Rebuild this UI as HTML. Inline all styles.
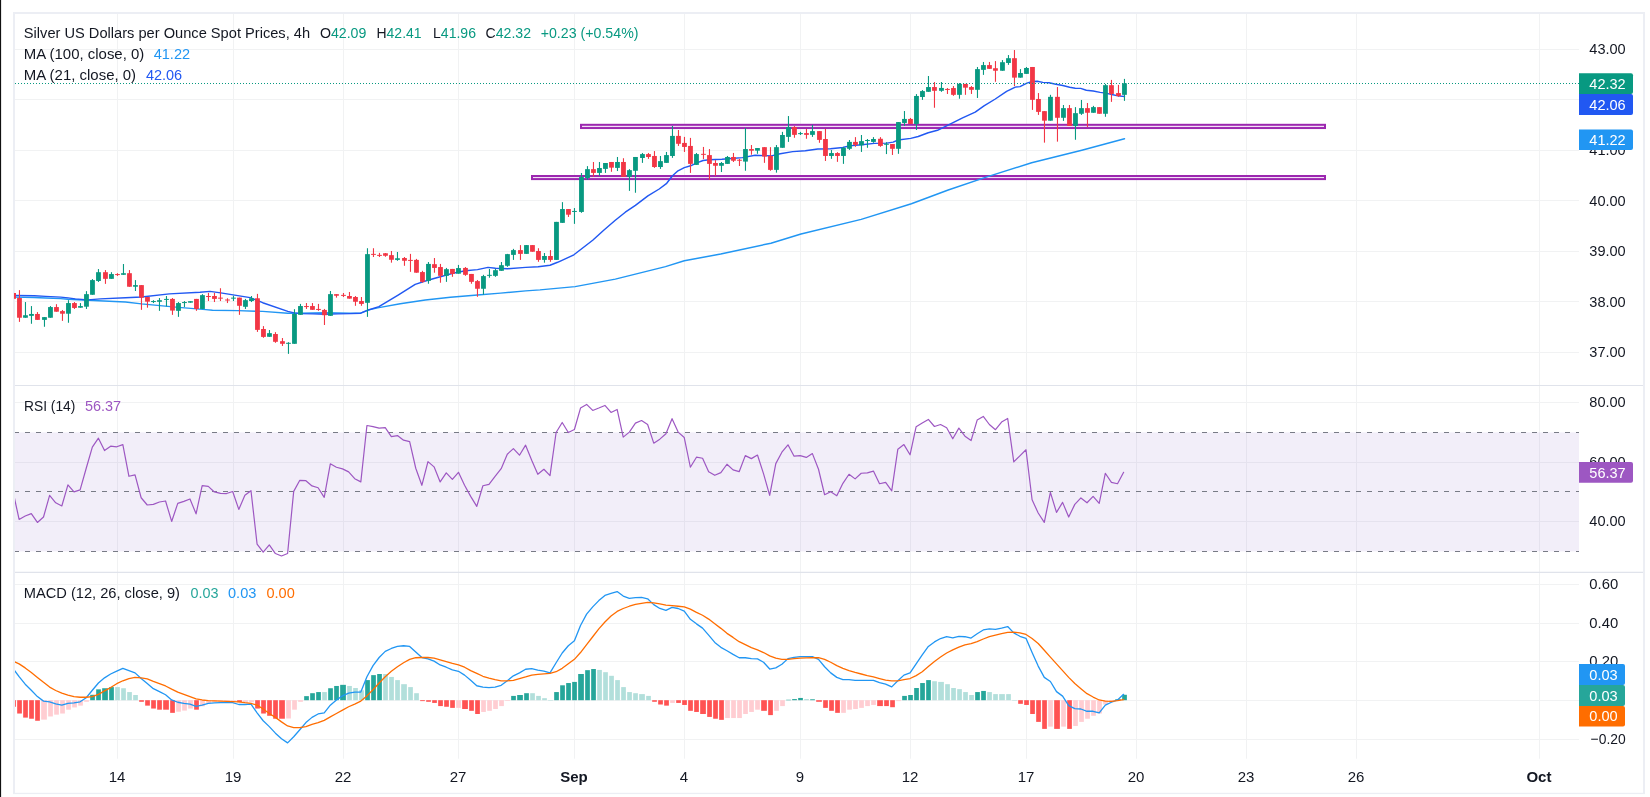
<!DOCTYPE html>
<html><head><meta charset="utf-8"><title>Silver chart</title>
<style>html,body{margin:0;padding:0;background:#fff;}body{width:1650px;height:797px;position:relative;overflow:hidden;font-family:"Liberation Sans",sans-serif;}</style></head>
<body>
<svg width="1650" height="797" viewBox="0 0 1650 797" style="position:absolute;left:0;top:0;display:block;will-change:transform" font-family="Liberation Sans, sans-serif" font-size="15">
<rect x="0" y="0" width="1650" height="797" fill="#fff"/>
<defs><clipPath id="cp"><rect x="15" y="14" width="1564" height="745"/></clipPath></defs>
<line x1="117.5" y1="14" x2="117.5" y2="758.7" stroke="#f1f2f3" stroke-width="1"/>
<line x1="233.5" y1="14" x2="233.5" y2="758.7" stroke="#f1f2f3" stroke-width="1"/>
<line x1="343.5" y1="14" x2="343.5" y2="758.7" stroke="#f1f2f3" stroke-width="1"/>
<line x1="458.5" y1="14" x2="458.5" y2="758.7" stroke="#f1f2f3" stroke-width="1"/>
<line x1="574.5" y1="14" x2="574.5" y2="758.7" stroke="#f1f2f3" stroke-width="1"/>
<line x1="684.5" y1="14" x2="684.5" y2="758.7" stroke="#f1f2f3" stroke-width="1"/>
<line x1="800.5" y1="14" x2="800.5" y2="758.7" stroke="#f1f2f3" stroke-width="1"/>
<line x1="910.5" y1="14" x2="910.5" y2="758.7" stroke="#f1f2f3" stroke-width="1"/>
<line x1="1026.5" y1="14" x2="1026.5" y2="758.7" stroke="#f1f2f3" stroke-width="1"/>
<line x1="1136.5" y1="14" x2="1136.5" y2="758.7" stroke="#f1f2f3" stroke-width="1"/>
<line x1="1246.5" y1="14" x2="1246.5" y2="758.7" stroke="#f1f2f3" stroke-width="1"/>
<line x1="1356.5" y1="14" x2="1356.5" y2="758.7" stroke="#f1f2f3" stroke-width="1"/>
<line x1="1539.5" y1="14" x2="1539.5" y2="758.7" stroke="#f1f2f3" stroke-width="1"/>
<line x1="15" y1="49.5" x2="1579" y2="49.5" stroke="#f1f2f3" stroke-width="1"/>
<line x1="15" y1="99.5" x2="1579" y2="99.5" stroke="#f1f2f3" stroke-width="1"/>
<line x1="15" y1="150.5" x2="1579" y2="150.5" stroke="#f1f2f3" stroke-width="1"/>
<line x1="15" y1="200.5" x2="1579" y2="200.5" stroke="#f1f2f3" stroke-width="1"/>
<line x1="15" y1="251.5" x2="1579" y2="251.5" stroke="#f1f2f3" stroke-width="1"/>
<line x1="15" y1="301.5" x2="1579" y2="301.5" stroke="#f1f2f3" stroke-width="1"/>
<line x1="15" y1="352.5" x2="1579" y2="352.5" stroke="#f1f2f3" stroke-width="1"/>
<line x1="15" y1="402.5" x2="1579" y2="402.5" stroke="#f1f2f3" stroke-width="1"/>
<line x1="15" y1="462.5" x2="1579" y2="462.5" stroke="#f1f2f3" stroke-width="1"/>
<line x1="15" y1="521.5" x2="1579" y2="521.5" stroke="#f1f2f3" stroke-width="1"/>
<line x1="15" y1="584.5" x2="1579" y2="584.5" stroke="#f1f2f3" stroke-width="1"/>
<line x1="15" y1="623.5" x2="1579" y2="623.5" stroke="#f1f2f3" stroke-width="1"/>
<line x1="15" y1="661.5" x2="1579" y2="661.5" stroke="#f1f2f3" stroke-width="1"/>
<line x1="15" y1="700.5" x2="1579" y2="700.5" stroke="#f1f2f3" stroke-width="1"/>
<line x1="15" y1="739.5" x2="1579" y2="739.5" stroke="#f1f2f3" stroke-width="1"/>
<rect x="15" y="432.4" width="1564" height="119.0" fill="#7e57c2" fill-opacity="0.1"/>
<line x1="15" y1="432.5" x2="1579" y2="432.5" stroke="#787b86" stroke-width="1" stroke-dasharray="5 6" stroke-dashoffset="1"/>
<line x1="15" y1="491.5" x2="1579" y2="491.5" stroke="#787b86" stroke-width="1" stroke-dasharray="5 6" stroke-dashoffset="1"/>
<line x1="15" y1="551.5" x2="1579" y2="551.5" stroke="#787b86" stroke-width="1" stroke-dasharray="5 6" stroke-dashoffset="1"/>
<line x1="15" y1="385.5" x2="1643" y2="385.5" stroke="#e0e3eb" stroke-width="1.1"/>
<line x1="15" y1="572.4" x2="1643" y2="572.4" stroke="#e0e3eb" stroke-width="1.1"/>
<g clip-path="url(#cp)">
<rect x="581" y="124.8" width="744" height="3.25" fill="#f3e0f6" stroke="#9c27b0" stroke-width="2"/>
<rect x="532" y="176" width="793" height="3.1" fill="#f3e0f6" stroke="#9c27b0" stroke-width="2"/>
<polyline fill="none" stroke="#2196f3" stroke-width="1.45" stroke-linejoin="round" stroke-linecap="round" points="14,297.1 34,297.5 45.6,298 60.7,298.6 68,299.2 87.8,300.2 125.5,302 141.5,303.9 175.7,307.1 205.8,309.6 212.5,310.2 237.9,310.6 262.7,311.4 287.8,313.3 300.4,313.3 325.5,312.7 350,313.1 360.7,313.1 367.6,310.1 378.9,307.6 400.2,303.8 425.3,300 450.4,297.2 477.5,295 500.6,293.1 525.7,290.9 540,289.9 575.1,286.6 615.3,279.1 665.5,266.6 684.3,260.8 720.7,254 770.9,243.2 801,234 861.2,219.4 911.4,203.8 948.2,190 987.7,176.6 1031.6,162.8 1081.8,150.2 1124.5,138.7"/>
<polyline fill="none" stroke="#2158f2" stroke-width="1.45" stroke-linejoin="round" stroke-linecap="round" points="14,295.4 34.3,295.8 45.6,296.4 60.7,297.1 68,297.9 75.3,298.9 87.8,299.9 100.4,298.9 125.5,297.7 141.5,297 169.4,293.9 200,292.3 210,291.4 220.7,292.9 250.2,297.6 262.7,302.7 287.8,311.4 294.1,312.9 300.4,313.6 312.9,313.9 325.5,314.2 338,313.9 350.6,313.6 360.7,313.2 367.6,310.3 378.9,306.6 397.7,295.3 415.2,284.4 427.8,280.2 440.3,276.7 452.9,273.3 465.4,270.8 477.5,269.6 488,267.4 495.5,268.3 507.6,268.7 525.7,267.4 538.2,266.7 550,265.2 557.6,262.3 573.9,254.8 592.7,240.2 604,230 615.3,220.3 625.3,212.2 635.4,205.3 647.9,195.9 659.2,189 666.7,183.3 672.5,175.8 678,170.8 684.3,167.6 690.6,165.8 696.8,162.9 703.1,160.5 709.4,159.7 721.9,159.2 734.5,158.2 742.5,157.6 755.1,155.3 771.4,155.9 780.2,153.8 792.7,151.6 805.3,150.7 817.8,149 830.4,148.8 842.9,147.5 849.2,145.9 861.7,144.7 874.3,143.4 886.8,143.1 893.1,142.1 898.1,140 910.7,138.4 918.2,136.5 928.2,132.7 937.5,130.3 950.1,124.1 962.6,117.8 975.2,112.1 984,105.9 995.3,99 1006.6,91.4 1015.3,87.1 1020,86.6 1026.9,83.1 1032.4,81.5 1037.3,81.2 1042.8,82.4 1049,82.8 1055.9,84.3 1062.8,85.5 1069.7,87.2 1075.2,88.3 1080.7,88.4 1086.3,90.2 1093.2,91 1100.1,92.4 1105.6,93.1 1111.8,94.5 1118,95.9 1124.5,96.5"/>
<rect x="18.92" y="290.13" width="1.1" height="31.74" fill="#f23645"/>
<rect x="17.07" y="298.04" width="4.8" height="19.7" fill="#f23645"/>
<rect x="24.92" y="302.05" width="1.1" height="15.68" fill="#089981"/>
<rect x="23.07" y="315.23" width="4.8" height="2.51" fill="#089981"/>
<rect x="30.92" y="306.07" width="1.1" height="17.69" fill="#089981"/>
<rect x="29.07" y="313.97" width="4.8" height="1.88" fill="#089981"/>
<rect x="36.92" y="312.09" width="1.1" height="7.78" fill="#f23645"/>
<rect x="35.07" y="313.97" width="4.8" height="5.9" fill="#f23645"/>
<rect x="43.92" y="317.11" width="1.1" height="9.66" fill="#089981"/>
<rect x="42.07" y="317.11" width="4.8" height="2.76" fill="#089981"/>
<rect x="49.92" y="306.07" width="1.1" height="11.67" fill="#089981"/>
<rect x="48.07" y="307.07" width="4.8" height="10.66" fill="#089981"/>
<rect x="55.92" y="304.18" width="1.1" height="7.53" fill="#f23645"/>
<rect x="54.07" y="307.07" width="4.8" height="4.64" fill="#f23645"/>
<rect x="61.92" y="309.96" width="1.1" height="10.92" fill="#f23645"/>
<rect x="60.07" y="311.09" width="4.8" height="2.63" fill="#f23645"/>
<rect x="67.92" y="300.17" width="1.1" height="22.58" fill="#089981"/>
<rect x="66.07" y="303.06" width="4.8" height="10.66" fill="#089981"/>
<rect x="73.92" y="302.05" width="1.1" height="6.9" fill="#f23645"/>
<rect x="72.07" y="303.06" width="4.8" height="4.89" fill="#f23645"/>
<rect x="79.92" y="303.06" width="1.1" height="4.64" fill="#089981"/>
<rect x="78.07" y="306.07" width="4.8" height="1.63" fill="#089981"/>
<rect x="85.92" y="291.14" width="1.1" height="17.82" fill="#089981"/>
<rect x="84.07" y="294.15" width="4.8" height="12.55" fill="#089981"/>
<rect x="91.92" y="279.09" width="1.1" height="15.68" fill="#089981"/>
<rect x="90.07" y="280.09" width="4.8" height="14.68" fill="#089981"/>
<rect x="97.92" y="269.05" width="1.1" height="12.92" fill="#089981"/>
<rect x="96.07" y="272.19" width="4.8" height="8.78" fill="#089981"/>
<rect x="104.92" y="270.06" width="1.1" height="13.8" fill="#f23645"/>
<rect x="103.07" y="272.19" width="4.8" height="6.65" fill="#f23645"/>
<rect x="110.92" y="272.19" width="1.1" height="6.65" fill="#089981"/>
<rect x="109.07" y="274.07" width="4.8" height="4.77" fill="#089981"/>
<rect x="116.92" y="273.19" width="1.1" height="2.76" fill="#f23645"/>
<rect x="115.07" y="274.07" width="4.8" height="1" fill="#f23645"/>
<rect x="122.92" y="264.03" width="1.1" height="10.79" fill="#089981"/>
<rect x="121.07" y="273.19" width="4.8" height="1.63" fill="#089981"/>
<rect x="128.92" y="270.06" width="1.1" height="16.69" fill="#f23645"/>
<rect x="127.07" y="273.19" width="4.8" height="13.55" fill="#f23645"/>
<rect x="134.92" y="280.09" width="1.1" height="10.92" fill="#089981"/>
<rect x="133.07" y="285.11" width="4.8" height="1.63" fill="#089981"/>
<rect x="140.92" y="285.11" width="1.1" height="24.72" fill="#f23645"/>
<rect x="139.07" y="285.11" width="4.8" height="12.55" fill="#f23645"/>
<rect x="146.92" y="297.03" width="1.1" height="10.66" fill="#f23645"/>
<rect x="145.07" y="297.03" width="4.8" height="4.64" fill="#f23645"/>
<rect x="152.92" y="300.17" width="1.1" height="2.89" fill="#089981"/>
<rect x="151.07" y="301.05" width="4.8" height="1" fill="#089981"/>
<rect x="158.92" y="298.04" width="1.1" height="12.8" fill="#089981"/>
<rect x="157.07" y="300.17" width="4.8" height="1.63" fill="#089981"/>
<rect x="165.92" y="296.03" width="1.1" height="10.41" fill="#089981"/>
<rect x="164.07" y="298.91" width="4.8" height="1" fill="#089981"/>
<rect x="171.92" y="298.04" width="1.1" height="16.81" fill="#f23645"/>
<rect x="170.07" y="298.91" width="4.8" height="11.67" fill="#f23645"/>
<rect x="177.92" y="302.05" width="1.1" height="14.81" fill="#089981"/>
<rect x="176.07" y="303.06" width="4.8" height="7.78" fill="#089981"/>
<rect x="183.92" y="301.05" width="1.1" height="6.02" fill="#089981"/>
<rect x="182.07" y="302.05" width="4.8" height="1" fill="#089981"/>
<rect x="189.92" y="301.17" width="1.1" height="1.51" fill="#089981"/>
<rect x="188.07" y="301.17" width="4.8" height="1.51" fill="#089981"/>
<rect x="195.92" y="298.91" width="1.1" height="11.92" fill="#f23645"/>
<rect x="194.07" y="298.91" width="4.8" height="10.04" fill="#f23645"/>
<rect x="201.92" y="294.15" width="1.1" height="14.81" fill="#089981"/>
<rect x="200.07" y="295.15" width="4.8" height="13.8" fill="#089981"/>
<rect x="207.92" y="292.87" width="1.1" height="8.16" fill="#f23645"/>
<rect x="206.07" y="296.01" width="4.8" height="1" fill="#f23645"/>
<rect x="213.92" y="292.87" width="1.1" height="9.16" fill="#f23645"/>
<rect x="212.07" y="296.01" width="4.8" height="2.89" fill="#f23645"/>
<rect x="219.92" y="288.23" width="1.1" height="12.8" fill="#f23645"/>
<rect x="218.07" y="297.64" width="4.8" height="1" fill="#f23645"/>
<rect x="226.92" y="298.27" width="1.1" height="4.77" fill="#f23645"/>
<rect x="225.07" y="299.52" width="4.8" height="1" fill="#f23645"/>
<rect x="232.92" y="295.76" width="1.1" height="5.27" fill="#089981"/>
<rect x="231.07" y="297.64" width="4.8" height="1" fill="#089981"/>
<rect x="238.92" y="297.64" width="1.1" height="17.19" fill="#f23645"/>
<rect x="237.07" y="297.64" width="4.8" height="8.16" fill="#f23645"/>
<rect x="244.92" y="298.9" width="1.1" height="10.04" fill="#089981"/>
<rect x="243.07" y="300.15" width="4.8" height="6.65" fill="#089981"/>
<rect x="250.92" y="296.01" width="1.1" height="6.02" fill="#089981"/>
<rect x="249.07" y="298.27" width="4.8" height="2.76" fill="#089981"/>
<rect x="256.92" y="293.88" width="1.1" height="38.02" fill="#f23645"/>
<rect x="255.07" y="298.27" width="4.8" height="31.62" fill="#f23645"/>
<rect x="262.92" y="326.12" width="1.1" height="11.67" fill="#f23645"/>
<rect x="261.07" y="329.01" width="4.8" height="7.9" fill="#f23645"/>
<rect x="268.92" y="330.01" width="1.1" height="6.78" fill="#089981"/>
<rect x="267.07" y="333.15" width="4.8" height="3.64" fill="#089981"/>
<rect x="274.92" y="332.15" width="1.1" height="10.66" fill="#f23645"/>
<rect x="273.07" y="334.03" width="4.8" height="7.78" fill="#f23645"/>
<rect x="281.92" y="338.04" width="1.1" height="7.9" fill="#f23645"/>
<rect x="280.07" y="341.18" width="4.8" height="2.63" fill="#f23645"/>
<rect x="287.92" y="342.18" width="1.1" height="11.67" fill="#089981"/>
<rect x="286.07" y="342.81" width="4.8" height="1" fill="#089981"/>
<rect x="293.92" y="309.18" width="1.1" height="34.63" fill="#089981"/>
<rect x="292.07" y="313.95" width="4.8" height="29.86" fill="#089981"/>
<rect x="299.92" y="303.91" width="1.1" height="10.92" fill="#089981"/>
<rect x="298.07" y="306.05" width="4.8" height="8.78" fill="#089981"/>
<rect x="305.92" y="303.04" width="1.1" height="5.9" fill="#f23645"/>
<rect x="304.07" y="306.05" width="4.8" height="1" fill="#f23645"/>
<rect x="311.92" y="303.04" width="1.1" height="6.78" fill="#f23645"/>
<rect x="310.07" y="306.05" width="4.8" height="3.76" fill="#f23645"/>
<rect x="317.92" y="303.91" width="1.1" height="6.9" fill="#f23645"/>
<rect x="316.07" y="308.93" width="4.8" height="1" fill="#f23645"/>
<rect x="323.92" y="308.93" width="1.1" height="16.06" fill="#f23645"/>
<rect x="322.07" y="309.94" width="4.8" height="5.27" fill="#f23645"/>
<rect x="329.92" y="290.99" width="1.1" height="24.84" fill="#089981"/>
<rect x="328.07" y="294.13" width="4.8" height="21.71" fill="#089981"/>
<rect x="335.92" y="294.13" width="1.1" height="3.51" fill="#f23645"/>
<rect x="334.07" y="294.13" width="4.8" height="1.63" fill="#f23645"/>
<rect x="342.92" y="293" width="1.1" height="4.02" fill="#f23645"/>
<rect x="341.07" y="294.88" width="4.8" height="1" fill="#f23645"/>
<rect x="348.92" y="291.99" width="1.1" height="6.65" fill="#f23645"/>
<rect x="347.07" y="296.01" width="4.8" height="2.63" fill="#f23645"/>
<rect x="354.92" y="296.01" width="1.1" height="9.79" fill="#f23645"/>
<rect x="353.07" y="297.01" width="4.8" height="4.77" fill="#f23645"/>
<rect x="360.92" y="297.01" width="1.1" height="8.78" fill="#f23645"/>
<rect x="359.07" y="301.03" width="4.8" height="2.89" fill="#f23645"/>
<rect x="366.92" y="248.23" width="1.1" height="68.63" fill="#089981"/>
<rect x="365.07" y="254.13" width="4.8" height="48.68" fill="#089981"/>
<rect x="372.92" y="248.23" width="1.1" height="8.78" fill="#f23645"/>
<rect x="371.07" y="253.88" width="4.8" height="1" fill="#f23645"/>
<rect x="378.92" y="252.87" width="1.1" height="4.14" fill="#f23645"/>
<rect x="377.07" y="254.88" width="4.8" height="1" fill="#f23645"/>
<rect x="384.92" y="253" width="1.1" height="3.76" fill="#f23645"/>
<rect x="383.07" y="253.25" width="4.8" height="2.51" fill="#f23645"/>
<rect x="390.92" y="250.99" width="1.1" height="11.67" fill="#f23645"/>
<rect x="389.07" y="255.13" width="4.8" height="4.64" fill="#f23645"/>
<rect x="396.92" y="251.99" width="1.1" height="8.78" fill="#089981"/>
<rect x="395.07" y="258.27" width="4.8" height="1.63" fill="#089981"/>
<rect x="403.92" y="257.01" width="1.1" height="8.78" fill="#f23645"/>
<rect x="402.07" y="258.02" width="4.8" height="2.76" fill="#f23645"/>
<rect x="409.92" y="253.88" width="1.1" height="17.94" fill="#f23645"/>
<rect x="408.07" y="259.9" width="4.8" height="1" fill="#f23645"/>
<rect x="415.92" y="258.9" width="1.1" height="13.8" fill="#f23645"/>
<rect x="414.07" y="259.9" width="4.8" height="12.8" fill="#f23645"/>
<rect x="421.92" y="270.82" width="1.1" height="11.92" fill="#f23645"/>
<rect x="420.07" y="272.07" width="4.8" height="9.79" fill="#f23645"/>
<rect x="427.92" y="262.03" width="1.1" height="21.71" fill="#089981"/>
<rect x="426.07" y="263.91" width="4.8" height="16.94" fill="#089981"/>
<rect x="433.92" y="258.02" width="1.1" height="14.68" fill="#f23645"/>
<rect x="432.07" y="264.17" width="4.8" height="3.76" fill="#f23645"/>
<rect x="439.92" y="263.91" width="1.1" height="18.82" fill="#f23645"/>
<rect x="438.07" y="267.05" width="4.8" height="8.78" fill="#f23645"/>
<rect x="445.92" y="267.93" width="1.1" height="13.93" fill="#089981"/>
<rect x="444.07" y="269.18" width="4.8" height="6.65" fill="#089981"/>
<rect x="451.92" y="268.93" width="1.1" height="7.9" fill="#f23645"/>
<rect x="450.07" y="268.93" width="4.8" height="5.02" fill="#f23645"/>
<rect x="457.92" y="264.92" width="1.1" height="8.78" fill="#089981"/>
<rect x="456.07" y="268.06" width="4.8" height="5.65" fill="#089981"/>
<rect x="464.92" y="267.05" width="1.1" height="8.78" fill="#f23645"/>
<rect x="463.07" y="267.93" width="4.8" height="6.9" fill="#f23645"/>
<rect x="470.92" y="273.95" width="1.1" height="9.79" fill="#f23645"/>
<rect x="469.07" y="273.95" width="4.8" height="7.9" fill="#f23645"/>
<rect x="476.92" y="279.97" width="1.1" height="16.81" fill="#f23645"/>
<rect x="475.07" y="281.1" width="4.8" height="7.65" fill="#f23645"/>
<rect x="482.92" y="274.83" width="1.1" height="19.82" fill="#089981"/>
<rect x="481.07" y="276.09" width="4.8" height="12.67" fill="#089981"/>
<rect x="488.92" y="268.93" width="1.1" height="8.78" fill="#089981"/>
<rect x="487.07" y="274.83" width="4.8" height="1" fill="#089981"/>
<rect x="494.92" y="268.93" width="1.1" height="7.9" fill="#089981"/>
<rect x="493.07" y="270.19" width="4.8" height="5.65" fill="#089981"/>
<rect x="500.92" y="262.03" width="1.1" height="8.78" fill="#089981"/>
<rect x="499.07" y="265.17" width="4.8" height="5.65" fill="#089981"/>
<rect x="506.92" y="253.88" width="1.1" height="12.92" fill="#089981"/>
<rect x="505.07" y="254.13" width="4.8" height="11.67" fill="#089981"/>
<rect x="512.92" y="248.86" width="1.1" height="11.04" fill="#089981"/>
<rect x="511.07" y="250.11" width="4.8" height="4.77" fill="#089981"/>
<rect x="519.92" y="245.09" width="1.1" height="14.81" fill="#f23645"/>
<rect x="518.07" y="250.11" width="4.8" height="3.76" fill="#f23645"/>
<rect x="525.92" y="245.09" width="1.1" height="8.78" fill="#089981"/>
<rect x="524.07" y="245.09" width="4.8" height="8.78" fill="#089981"/>
<rect x="531.92" y="245.09" width="1.1" height="6.65" fill="#f23645"/>
<rect x="530.07" y="245.09" width="4.8" height="6.65" fill="#f23645"/>
<rect x="537.92" y="248.23" width="1.1" height="13.55" fill="#f23645"/>
<rect x="536.07" y="250.99" width="4.8" height="8.91" fill="#f23645"/>
<rect x="543.92" y="253" width="1.1" height="9.66" fill="#089981"/>
<rect x="542.07" y="256.01" width="4.8" height="3.89" fill="#089981"/>
<rect x="549.92" y="250.11" width="1.1" height="11.67" fill="#f23645"/>
<rect x="548.07" y="256.01" width="4.8" height="3.89" fill="#f23645"/>
<rect x="555.92" y="221.88" width="1.1" height="38.02" fill="#089981"/>
<rect x="554.07" y="221.88" width="4.8" height="38.02" fill="#089981"/>
<rect x="561.92" y="202.15" width="1.1" height="20.7" fill="#089981"/>
<rect x="560.07" y="209.05" width="4.8" height="13.8" fill="#089981"/>
<rect x="567.92" y="209.05" width="1.1" height="7.9" fill="#f23645"/>
<rect x="566.07" y="209.05" width="4.8" height="5.65" fill="#f23645"/>
<rect x="573.92" y="208.04" width="1.1" height="15.81" fill="#089981"/>
<rect x="572.07" y="210.93" width="4.8" height="1" fill="#089981"/>
<rect x="580.92" y="173.04" width="1.1" height="39.77" fill="#089981"/>
<rect x="579.07" y="177.05" width="4.8" height="34.88" fill="#089981"/>
<rect x="586.92" y="166.14" width="1.1" height="13.68" fill="#089981"/>
<rect x="585.07" y="169.15" width="4.8" height="8.91" fill="#089981"/>
<rect x="592.92" y="161.99" width="1.1" height="14.81" fill="#f23645"/>
<rect x="591.07" y="169.15" width="4.8" height="3.76" fill="#f23645"/>
<rect x="598.92" y="161.99" width="1.1" height="13.8" fill="#089981"/>
<rect x="597.07" y="168.02" width="4.8" height="4.89" fill="#089981"/>
<rect x="604.92" y="163" width="1.1" height="9.91" fill="#089981"/>
<rect x="603.07" y="163" width="4.8" height="5.9" fill="#089981"/>
<rect x="610.92" y="161.99" width="1.1" height="9.79" fill="#f23645"/>
<rect x="609.07" y="161.99" width="4.8" height="5.65" fill="#f23645"/>
<rect x="616.92" y="156.98" width="1.1" height="14.05" fill="#089981"/>
<rect x="615.07" y="161.99" width="4.8" height="5.9" fill="#089981"/>
<rect x="622.92" y="158.23" width="1.1" height="18.57" fill="#f23645"/>
<rect x="621.07" y="161.99" width="4.8" height="14.81" fill="#f23645"/>
<rect x="628.92" y="169.15" width="1.1" height="21.71" fill="#089981"/>
<rect x="627.07" y="170.15" width="4.8" height="6.65" fill="#089981"/>
<rect x="634.92" y="156.98" width="1.1" height="35.76" fill="#089981"/>
<rect x="633.07" y="156.98" width="4.8" height="13.8" fill="#089981"/>
<rect x="641.92" y="152.96" width="1.1" height="9.91" fill="#089981"/>
<rect x="640.07" y="154.09" width="4.8" height="3.89" fill="#089981"/>
<rect x="647.92" y="152.96" width="1.1" height="5.9" fill="#f23645"/>
<rect x="646.07" y="154.09" width="4.8" height="2.89" fill="#f23645"/>
<rect x="653.92" y="151.08" width="1.1" height="16.81" fill="#f23645"/>
<rect x="652.07" y="155.97" width="4.8" height="11.04" fill="#f23645"/>
<rect x="659.92" y="155.97" width="1.1" height="12.92" fill="#089981"/>
<rect x="658.07" y="161.12" width="4.8" height="5.9" fill="#089981"/>
<rect x="665.92" y="151.96" width="1.1" height="10.92" fill="#089981"/>
<rect x="664.07" y="155.09" width="4.8" height="7.78" fill="#089981"/>
<rect x="671.92" y="125.98" width="1.1" height="31.87" fill="#089981"/>
<rect x="670.07" y="135.9" width="4.8" height="20.08" fill="#089981"/>
<rect x="677.92" y="130" width="1.1" height="15.93" fill="#f23645"/>
<rect x="676.07" y="135.9" width="4.8" height="7.9" fill="#f23645"/>
<rect x="683.92" y="136.9" width="1.1" height="15.06" fill="#f23645"/>
<rect x="682.07" y="142.92" width="4.8" height="4.02" fill="#f23645"/>
<rect x="689.92" y="137.9" width="1.1" height="35.01" fill="#f23645"/>
<rect x="688.07" y="145.93" width="4.8" height="17.94" fill="#f23645"/>
<rect x="695.92" y="152.96" width="1.1" height="11.92" fill="#089981"/>
<rect x="694.07" y="154.09" width="4.8" height="10.79" fill="#089981"/>
<rect x="702.92" y="146.94" width="1.1" height="12.17" fill="#f23645"/>
<rect x="701.07" y="153.84" width="4.8" height="1" fill="#f23645"/>
<rect x="708.92" y="149.07" width="1.1" height="30.74" fill="#f23645"/>
<rect x="707.07" y="155.09" width="4.8" height="8.78" fill="#f23645"/>
<rect x="714.92" y="160.11" width="1.1" height="15.68" fill="#f23645"/>
<rect x="713.07" y="163" width="4.8" height="2.76" fill="#f23645"/>
<rect x="720.92" y="161.99" width="1.1" height="10.04" fill="#089981"/>
<rect x="719.07" y="163" width="4.8" height="2.76" fill="#089981"/>
<rect x="726.92" y="155.97" width="1.1" height="7.9" fill="#089981"/>
<rect x="725.07" y="156.98" width="4.8" height="6.9" fill="#089981"/>
<rect x="732.92" y="152.96" width="1.1" height="9.03" fill="#f23645"/>
<rect x="731.07" y="156.98" width="4.8" height="3.76" fill="#f23645"/>
<rect x="738.92" y="158.86" width="1.1" height="7.15" fill="#f23645"/>
<rect x="737.07" y="159.74" width="4.8" height="1" fill="#f23645"/>
<rect x="744.92" y="128.09" width="1.1" height="42.66" fill="#089981"/>
<rect x="743.07" y="149.05" width="4.8" height="12.55" fill="#089981"/>
<rect x="750.92" y="145.03" width="1.1" height="9.66" fill="#f23645"/>
<rect x="749.07" y="149.05" width="4.8" height="1.63" fill="#f23645"/>
<rect x="756.92" y="148.04" width="1.1" height="5.77" fill="#089981"/>
<rect x="755.07" y="148.04" width="4.8" height="2.63" fill="#089981"/>
<rect x="763.92" y="147.16" width="1.1" height="15.68" fill="#f23645"/>
<rect x="762.07" y="147.16" width="4.8" height="9.41" fill="#f23645"/>
<rect x="769.92" y="147.16" width="1.1" height="23.59" fill="#f23645"/>
<rect x="768.07" y="155.95" width="4.8" height="13.93" fill="#f23645"/>
<rect x="775.92" y="145.03" width="1.1" height="27.6" fill="#089981"/>
<rect x="774.07" y="147.16" width="4.8" height="22.71" fill="#089981"/>
<rect x="781.92" y="131.86" width="1.1" height="15.93" fill="#089981"/>
<rect x="780.07" y="134.99" width="4.8" height="12.8" fill="#089981"/>
<rect x="787.92" y="116.05" width="1.1" height="25.85" fill="#089981"/>
<rect x="786.07" y="127.09" width="4.8" height="9.79" fill="#089981"/>
<rect x="793.92" y="126.09" width="1.1" height="11.67" fill="#f23645"/>
<rect x="792.07" y="127.09" width="4.8" height="7.78" fill="#f23645"/>
<rect x="799.92" y="131.86" width="1.1" height="3.14" fill="#089981"/>
<rect x="798.07" y="133.11" width="4.8" height="1" fill="#089981"/>
<rect x="805.92" y="128.97" width="1.1" height="9.79" fill="#f23645"/>
<rect x="804.07" y="133.11" width="4.8" height="1.76" fill="#f23645"/>
<rect x="811.92" y="124.83" width="1.1" height="12.05" fill="#089981"/>
<rect x="810.07" y="131.1" width="4.8" height="3.76" fill="#089981"/>
<rect x="818.92" y="131.1" width="1.1" height="11.67" fill="#f23645"/>
<rect x="817.07" y="131.1" width="4.8" height="8.78" fill="#f23645"/>
<rect x="824.92" y="128.97" width="1.1" height="31.99" fill="#f23645"/>
<rect x="823.07" y="139.01" width="4.8" height="16.94" fill="#f23645"/>
<rect x="830.92" y="150.05" width="1.1" height="8.78" fill="#089981"/>
<rect x="829.07" y="153.06" width="4.8" height="2.89" fill="#089981"/>
<rect x="836.92" y="152.18" width="1.1" height="9.66" fill="#f23645"/>
<rect x="835.07" y="153.06" width="4.8" height="2.89" fill="#f23645"/>
<rect x="842.92" y="146.91" width="1.1" height="16.94" fill="#089981"/>
<rect x="841.07" y="147.79" width="4.8" height="8.16" fill="#089981"/>
<rect x="848.92" y="140.01" width="1.1" height="9.91" fill="#089981"/>
<rect x="847.07" y="141.89" width="4.8" height="6.9" fill="#089981"/>
<rect x="854.92" y="137.13" width="1.1" height="9.66" fill="#f23645"/>
<rect x="853.07" y="141.89" width="4.8" height="3.01" fill="#f23645"/>
<rect x="860.92" y="134.99" width="1.1" height="16.94" fill="#089981"/>
<rect x="859.07" y="141.14" width="4.8" height="4.14" fill="#089981"/>
<rect x="866.92" y="139.01" width="1.1" height="8.78" fill="#089981"/>
<rect x="865.07" y="140.01" width="4.8" height="1" fill="#089981"/>
<rect x="872.92" y="137.13" width="1.1" height="5.65" fill="#089981"/>
<rect x="871.07" y="139.01" width="4.8" height="2.89" fill="#089981"/>
<rect x="879.92" y="137.13" width="1.1" height="9.66" fill="#f23645"/>
<rect x="878.07" y="138.76" width="4.8" height="7.15" fill="#f23645"/>
<rect x="885.92" y="142.15" width="1.1" height="11.92" fill="#089981"/>
<rect x="884.07" y="143.78" width="4.8" height="1" fill="#089981"/>
<rect x="891.92" y="144.03" width="1.1" height="10.92" fill="#f23645"/>
<rect x="890.07" y="144.03" width="4.8" height="4.77" fill="#f23645"/>
<rect x="897.92" y="122.07" width="1.1" height="31.74" fill="#089981"/>
<rect x="896.07" y="122.07" width="4.8" height="26.73" fill="#089981"/>
<rect x="903.92" y="111.03" width="1.1" height="14.81" fill="#089981"/>
<rect x="902.07" y="118.93" width="4.8" height="4.02" fill="#089981"/>
<rect x="909.92" y="117.93" width="1.1" height="6.02" fill="#f23645"/>
<rect x="908.07" y="118.93" width="4.8" height="5.02" fill="#f23645"/>
<rect x="915.92" y="94.09" width="1.1" height="35.88" fill="#089981"/>
<rect x="914.07" y="95.97" width="4.8" height="27.98" fill="#089981"/>
<rect x="921.92" y="90.08" width="1.1" height="9.79" fill="#089981"/>
<rect x="920.07" y="91.08" width="4.8" height="5.9" fill="#089981"/>
<rect x="927.92" y="76.01" width="1.1" height="15.81" fill="#089981"/>
<rect x="926.07" y="87.05" width="4.8" height="4.77" fill="#089981"/>
<rect x="933.92" y="82.03" width="1.1" height="25.72" fill="#f23645"/>
<rect x="932.07" y="87.05" width="4.8" height="3.76" fill="#f23645"/>
<rect x="940.92" y="82.03" width="1.1" height="9.79" fill="#089981"/>
<rect x="939.07" y="87.93" width="4.8" height="2.89" fill="#089981"/>
<rect x="946.92" y="88.06" width="1.1" height="5.9" fill="#f23645"/>
<rect x="945.07" y="88.93" width="4.8" height="1" fill="#f23645"/>
<rect x="952.92" y="86.05" width="1.1" height="9.79" fill="#f23645"/>
<rect x="951.07" y="88.06" width="4.8" height="6.78" fill="#f23645"/>
<rect x="958.92" y="83.04" width="1.1" height="15.68" fill="#089981"/>
<rect x="957.07" y="83.91" width="4.8" height="10.92" fill="#089981"/>
<rect x="964.92" y="83.91" width="1.1" height="10.92" fill="#f23645"/>
<rect x="963.07" y="83.91" width="4.8" height="3.76" fill="#f23645"/>
<rect x="970.92" y="86.05" width="1.1" height="7.9" fill="#f23645"/>
<rect x="969.07" y="87.05" width="4.8" height="2.76" fill="#f23645"/>
<rect x="976.92" y="66.98" width="1.1" height="30.99" fill="#089981"/>
<rect x="975.07" y="69.11" width="4.8" height="20.7" fill="#089981"/>
<rect x="982.92" y="61.96" width="1.1" height="12.92" fill="#089981"/>
<rect x="981.07" y="65.09" width="4.8" height="4.77" fill="#089981"/>
<rect x="988.92" y="61.96" width="1.1" height="6.9" fill="#f23645"/>
<rect x="987.07" y="65.09" width="4.8" height="3.76" fill="#f23645"/>
<rect x="994.92" y="61.08" width="1.1" height="20.7" fill="#f23645"/>
<rect x="993.07" y="68.23" width="4.8" height="2.51" fill="#f23645"/>
<rect x="1001.92" y="60.08" width="1.1" height="10.66" fill="#089981"/>
<rect x="1000.07" y="62.21" width="4.8" height="8.53" fill="#089981"/>
<rect x="1007.92" y="55.06" width="1.1" height="9.79" fill="#089981"/>
<rect x="1006.07" y="58.19" width="4.8" height="4.77" fill="#089981"/>
<rect x="1013.92" y="50.04" width="1.1" height="36.01" fill="#f23645"/>
<rect x="1012.07" y="58.19" width="4.8" height="19.45" fill="#f23645"/>
<rect x="1019.92" y="69.11" width="1.1" height="8.53" fill="#089981"/>
<rect x="1018.07" y="73" width="4.8" height="4.64" fill="#089981"/>
<rect x="1025.92" y="66.98" width="1.1" height="6.9" fill="#089981"/>
<rect x="1024.07" y="67.98" width="4.8" height="5.9" fill="#089981"/>
<rect x="1031.92" y="66.98" width="1.1" height="42.91" fill="#f23645"/>
<rect x="1030.07" y="66.98" width="4.8" height="32.87" fill="#f23645"/>
<rect x="1037.92" y="93.07" width="1.1" height="21.83" fill="#f23645"/>
<rect x="1036.07" y="98.97" width="4.8" height="12.92" fill="#f23645"/>
<rect x="1043.92" y="111.14" width="1.1" height="31.49" fill="#f23645"/>
<rect x="1042.07" y="111.14" width="4.8" height="9.54" fill="#f23645"/>
<rect x="1049.92" y="94.83" width="1.1" height="25.85" fill="#089981"/>
<rect x="1048.07" y="96.84" width="4.8" height="23.84" fill="#089981"/>
<rect x="1056.92" y="87.05" width="1.1" height="54.58" fill="#f23645"/>
<rect x="1055.07" y="96.84" width="4.8" height="20.95" fill="#f23645"/>
<rect x="1062.92" y="104.99" width="1.1" height="15.93" fill="#089981"/>
<rect x="1061.07" y="108.13" width="4.8" height="9.66" fill="#089981"/>
<rect x="1068.92" y="104.99" width="1.1" height="20.95" fill="#f23645"/>
<rect x="1067.07" y="108.13" width="4.8" height="17.82" fill="#f23645"/>
<rect x="1074.92" y="107.13" width="1.1" height="32.62" fill="#089981"/>
<rect x="1073.07" y="113.15" width="4.8" height="12.8" fill="#089981"/>
<rect x="1080.92" y="99.97" width="1.1" height="14.93" fill="#089981"/>
<rect x="1079.07" y="108.13" width="4.8" height="5.65" fill="#089981"/>
<rect x="1086.92" y="102.99" width="1.1" height="23.96" fill="#f23645"/>
<rect x="1085.07" y="108.13" width="4.8" height="4.64" fill="#f23645"/>
<rect x="1092.92" y="105.87" width="1.1" height="6.9" fill="#089981"/>
<rect x="1091.07" y="107.13" width="4.8" height="5.65" fill="#089981"/>
<rect x="1098.92" y="107.13" width="1.1" height="6.65" fill="#f23645"/>
<rect x="1097.07" y="107.13" width="4.8" height="6.65" fill="#f23645"/>
<rect x="1104.92" y="83.91" width="1.1" height="32.87" fill="#089981"/>
<rect x="1103.07" y="85.17" width="4.8" height="28.61" fill="#089981"/>
<rect x="1110.92" y="79.9" width="1.1" height="21.96" fill="#f23645"/>
<rect x="1109.07" y="85.17" width="4.8" height="8.78" fill="#f23645"/>
<rect x="1117.92" y="84.92" width="1.1" height="11.92" fill="#f23645"/>
<rect x="1116.07" y="93.07" width="4.8" height="3.01" fill="#f23645"/>
<rect x="1123.92" y="78.9" width="1.1" height="21.96" fill="#089981"/>
<rect x="1122.07" y="83.29" width="4.8" height="11.54" fill="#089981"/>
<line x1="15" y1="83.5" x2="1579" y2="83.5" stroke="#089981" stroke-width="1.1" stroke-dasharray="1 2"/>
<polyline fill="none" stroke="#9d57c2" stroke-width="1.2" stroke-linejoin="round" stroke-linecap="round" points="13,491.34 19.1,519.44 25.2,516.02 31.3,513.62 37.41,522.45 43.51,517.03 49.61,495.35 55.71,502.78 61.82,505.99 67.92,484.91 74.02,491.94 80.12,489.93 86.23,468.25 92.33,447.18 98.43,438.14 104.53,450.59 110.63,446.17 116.74,446.78 122.84,444.57 128.94,476.28 135.04,474.88 141.15,497.76 147.25,504.99 153.35,504.38 159.45,501.97 165.56,500.97 171.66,521.44 177.76,503.38 183.86,501.37 189.97,498.96 196.07,513.82 202.17,485.72 208.27,486.32 214.37,491.94 220.48,493.34 226.58,493.54 232.68,491.54 238.78,509.4 244.89,495.35 250.99,490.73 257.09,544.13 263.19,552.15 269.3,544.93 275.4,553.56 281.5,555.97 287.6,553.56 293.7,491.34 299.81,480.3 305.91,480.7 312.01,485.92 318.11,487.72 324.22,497.36 330.32,463.84 336.42,467.25 342.52,468.86 348.63,471.87 354.73,478.69 360.83,481.9 366.93,425.5 373.04,426.7 379.14,428.11 385.24,427.71 391.34,436.54 397.44,435.54 403.55,440.15 409.65,441.56 415.75,468.25 421.85,485.31 427.96,461.63 434.06,466.85 440.16,481.9 446.26,472.87 452.37,479.29 458.47,472.27 464.57,485.31 470.67,496.35 476.77,506.39 482.88,485.72 488.98,484.31 495.08,476.28 501.18,468.65 507.29,454.2 513.39,448.58 519.49,455.21 525.59,445.17 531.7,460.22 537.8,474.27 543.9,469.26 550,475.68 556.11,432.52 562.21,422.49 568.31,432.52 574.41,429.51 580.51,408.04 586.62,404.42 592.72,410.44 598.82,408.04 604.92,405.43 611.03,412.45 617.13,409.44 623.23,437.14 629.33,432.12 635.44,423.09 641.54,420.48 647.64,424.5 653.74,443.16 659.84,439.15 665.95,433.73 672.05,418.67 678.15,432.12 684.25,437.54 690.36,467.25 696.46,457.21 702.56,458.22 708.66,471.67 714.77,475.28 720.87,472.67 726.97,464.24 733.07,469.86 739.17,471.67 745.28,455.61 751.38,458.62 757.48,455.01 763.58,473.87 769.69,495.35 775.79,463.64 781.89,452.2 787.99,444.77 794.1,456.21 800.2,455.61 806.3,457.41 812.4,453.6 818.51,469.26 824.61,494.75 830.71,491.74 836.81,495.75 842.91,483.31 849.02,474.27 855.12,478.89 861.22,473.27 867.32,472.87 873.43,471.06 879.53,483.71 885.63,482.3 891.73,490.93 897.84,449.18 903.94,444.57 910.04,454.8 916.14,426.7 922.24,423.09 928.35,419.48 934.45,426.5 940.55,424.5 946.65,427.71 952.76,438.75 958.86,428.11 964.96,436.14 971.06,440.55 977.17,420.08 983.27,416.47 989.37,424.5 995.47,429.71 1001.58,422.09 1007.68,418.47 1013.78,461.83 1019.88,455.81 1025.98,449.79 1032.09,499.77 1038.19,513.01 1044.29,522.45 1050.39,492.34 1056.5,512.41 1062.6,502.38 1068.7,517.03 1074.8,504.38 1080.91,497.96 1087.01,502.78 1093.11,496.35 1099.21,503.38 1105.31,473.27 1111.42,482.3 1117.52,483.71 1123.62,472.27"/>
<rect x="11.17" y="700.2" width="4.7" height="6.56" fill="#ff5252"/>
<rect x="17.17" y="700.2" width="4.7" height="13.33" fill="#ff5252"/>
<rect x="23.17" y="700.2" width="4.7" height="17.4" fill="#ff5252"/>
<rect x="29.17" y="700.2" width="4.7" height="18.53" fill="#ff5252"/>
<rect x="35.17" y="700.2" width="4.7" height="20.56" fill="#ff5252"/>
<rect x="41.17" y="700.2" width="5.7" height="19.43" fill="#ffcdd2"/>
<rect x="48.17" y="700.2" width="4.7" height="16.27" fill="#ffcdd2"/>
<rect x="54.17" y="700.2" width="4.7" height="14.46" fill="#ffcdd2"/>
<rect x="60.17" y="700.2" width="4.7" height="13.33" fill="#ffcdd2"/>
<rect x="66.17" y="700.2" width="4.7" height="9.49" fill="#ffcdd2"/>
<rect x="72.17" y="700.2" width="4.7" height="7.23" fill="#ffcdd2"/>
<rect x="78.17" y="700.2" width="4.7" height="5.43" fill="#ffcdd2"/>
<rect x="84.17" y="700.2" width="4.7" height="1.59" fill="#ffcdd2"/>
<rect x="90.17" y="694.78" width="4.7" height="5.42" fill="#26a69a"/>
<rect x="96.17" y="689.36" width="4.7" height="10.84" fill="#26a69a"/>
<rect x="102.17" y="688.23" width="5.7" height="11.97" fill="#26a69a"/>
<rect x="109.17" y="687.1" width="4.7" height="13.1" fill="#26a69a"/>
<rect x="115.17" y="687.1" width="4.7" height="13.1" fill="#b2dfdb"/>
<rect x="121.17" y="688.23" width="4.7" height="11.97" fill="#b2dfdb"/>
<rect x="127.17" y="692.07" width="4.7" height="8.13" fill="#b2dfdb"/>
<rect x="133.17" y="695.01" width="4.7" height="5.19" fill="#b2dfdb"/>
<rect x="139.17" y="700.2" width="4.7" height="1.59" fill="#ff5252"/>
<rect x="145.17" y="700.2" width="4.7" height="5.43" fill="#ff5252"/>
<rect x="151.17" y="700.2" width="4.7" height="8.36" fill="#ff5252"/>
<rect x="157.17" y="700.2" width="4.7" height="9.49" fill="#ff5252"/>
<rect x="163.17" y="700.2" width="5.7" height="9.49" fill="#ff5252"/>
<rect x="170.17" y="700.2" width="4.7" height="12.65" fill="#ff5252"/>
<rect x="176.17" y="700.2" width="4.7" height="11.52" fill="#ffcdd2"/>
<rect x="182.17" y="700.2" width="4.7" height="10.4" fill="#ffcdd2"/>
<rect x="188.17" y="700.2" width="4.7" height="8.36" fill="#ffcdd2"/>
<rect x="194.17" y="700.2" width="4.7" height="9.49" fill="#ff5252"/>
<rect x="200.17" y="700.2" width="4.7" height="6.1" fill="#ffcdd2"/>
<rect x="206.17" y="700.2" width="4.7" height="3.17" fill="#ffcdd2"/>
<rect x="212.17" y="700.2" width="4.7" height="1.59" fill="#ffcdd2"/>
<rect x="218.17" y="700.2" width="4.7" height="1.36" fill="#ffcdd2"/>
<rect x="224.17" y="700.2" width="5.7" height="0.91" fill="#ffcdd2"/>
<rect x="231.17" y="700.2" width="4.7" height="0.68" fill="#ffcdd2"/>
<rect x="237.17" y="700.2" width="4.7" height="2.04" fill="#ff5252"/>
<rect x="243.17" y="700.2" width="4.7" height="2.04" fill="#ffcdd2"/>
<rect x="249.17" y="700.2" width="4.7" height="2.04" fill="#ffcdd2"/>
<rect x="255.17" y="700.2" width="4.7" height="8.36" fill="#ff5252"/>
<rect x="261.17" y="700.2" width="4.7" height="13.33" fill="#ff5252"/>
<rect x="267.17" y="700.2" width="4.7" height="15.59" fill="#ff5252"/>
<rect x="273.17" y="700.2" width="4.7" height="18.53" fill="#ff5252"/>
<rect x="279.17" y="700.2" width="5.7" height="18.53" fill="#ff5252"/>
<rect x="286.17" y="700.2" width="4.7" height="18.3" fill="#ffcdd2"/>
<rect x="292.17" y="700.2" width="4.7" height="9.49" fill="#ffcdd2"/>
<rect x="298.17" y="700.2" width="4.7" height="1.59" fill="#ffcdd2"/>
<rect x="304.17" y="696.14" width="4.7" height="4.06" fill="#26a69a"/>
<rect x="310.17" y="693.2" width="4.7" height="7" fill="#26a69a"/>
<rect x="316.17" y="692.07" width="4.7" height="8.13" fill="#26a69a"/>
<rect x="322.17" y="692.07" width="4.7" height="8.13" fill="#b2dfdb"/>
<rect x="328.17" y="688.23" width="4.7" height="11.97" fill="#26a69a"/>
<rect x="334.17" y="685.97" width="4.7" height="14.23" fill="#26a69a"/>
<rect x="340.17" y="684.84" width="5.7" height="15.36" fill="#26a69a"/>
<rect x="347.17" y="685.97" width="4.7" height="14.23" fill="#b2dfdb"/>
<rect x="353.17" y="688.01" width="4.7" height="12.19" fill="#b2dfdb"/>
<rect x="359.17" y="690.27" width="4.7" height="9.93" fill="#b2dfdb"/>
<rect x="365.17" y="680.1" width="4.7" height="20.1" fill="#26a69a"/>
<rect x="371.17" y="675.13" width="4.7" height="25.07" fill="#26a69a"/>
<rect x="377.17" y="674" width="4.7" height="26.2" fill="#26a69a"/>
<rect x="383.17" y="674" width="4.7" height="26.2" fill="#b2dfdb"/>
<rect x="389.17" y="676.94" width="4.7" height="23.26" fill="#b2dfdb"/>
<rect x="395.17" y="680.1" width="4.7" height="20.1" fill="#b2dfdb"/>
<rect x="401.17" y="684.17" width="5.7" height="16.03" fill="#b2dfdb"/>
<rect x="408.17" y="687.1" width="4.7" height="13.1" fill="#b2dfdb"/>
<rect x="414.17" y="693.2" width="4.7" height="7" fill="#b2dfdb"/>
<rect x="420.17" y="700.2" width="4.7" height="0.91" fill="#ff5252"/>
<rect x="426.17" y="700.2" width="4.7" height="1.59" fill="#ff5252"/>
<rect x="432.17" y="700.2" width="4.7" height="2.72" fill="#ff5252"/>
<rect x="438.17" y="700.2" width="4.7" height="5.88" fill="#ff5252"/>
<rect x="444.17" y="700.2" width="4.7" height="6.56" fill="#ff5252"/>
<rect x="450.17" y="700.2" width="4.7" height="7.68" fill="#ff5252"/>
<rect x="456.17" y="700.2" width="4.7" height="7.68" fill="#ffcdd2"/>
<rect x="462.17" y="700.2" width="5.7" height="8.81" fill="#ff5252"/>
<rect x="469.17" y="700.2" width="4.7" height="10.62" fill="#ff5252"/>
<rect x="475.17" y="700.2" width="4.7" height="13.78" fill="#ff5252"/>
<rect x="481.17" y="700.2" width="4.7" height="11.75" fill="#ffcdd2"/>
<rect x="487.17" y="700.2" width="4.7" height="10.62" fill="#ffcdd2"/>
<rect x="493.17" y="700.2" width="4.7" height="8.81" fill="#ffcdd2"/>
<rect x="499.17" y="700.2" width="4.7" height="5.88" fill="#ffcdd2"/>
<rect x="505.17" y="700.2" width="4.7" height="0.68" fill="#ffcdd2"/>
<rect x="511.17" y="695.91" width="4.7" height="4.29" fill="#26a69a"/>
<rect x="517.17" y="695.01" width="5.7" height="5.19" fill="#26a69a"/>
<rect x="524.17" y="693.2" width="4.7" height="7" fill="#26a69a"/>
<rect x="530.17" y="693.2" width="4.7" height="7" fill="#b2dfdb"/>
<rect x="536.17" y="695.91" width="4.7" height="4.29" fill="#b2dfdb"/>
<rect x="542.17" y="698.17" width="4.7" height="2.03" fill="#b2dfdb"/>
<rect x="548.17" y="699.98" width="4.7" height="0.5" fill="#b2dfdb"/>
<rect x="554.17" y="692.07" width="4.7" height="8.13" fill="#26a69a"/>
<rect x="560.17" y="685.3" width="4.7" height="14.9" fill="#26a69a"/>
<rect x="566.17" y="683.04" width="4.7" height="17.16" fill="#26a69a"/>
<rect x="572.17" y="681.91" width="4.7" height="18.29" fill="#26a69a"/>
<rect x="578.17" y="674" width="5.7" height="26.2" fill="#26a69a"/>
<rect x="585.17" y="670.16" width="4.7" height="30.04" fill="#26a69a"/>
<rect x="591.17" y="669.03" width="4.7" height="31.17" fill="#26a69a"/>
<rect x="597.17" y="669.94" width="4.7" height="30.26" fill="#b2dfdb"/>
<rect x="603.17" y="672.19" width="4.7" height="28.01" fill="#b2dfdb"/>
<rect x="609.17" y="675.81" width="4.7" height="24.39" fill="#b2dfdb"/>
<rect x="615.17" y="680.1" width="4.7" height="20.1" fill="#b2dfdb"/>
<rect x="621.17" y="687.1" width="4.7" height="13.1" fill="#b2dfdb"/>
<rect x="627.17" y="692.07" width="4.7" height="8.13" fill="#b2dfdb"/>
<rect x="633.17" y="693.2" width="4.7" height="7" fill="#b2dfdb"/>
<rect x="639.17" y="694.11" width="5.7" height="6.09" fill="#b2dfdb"/>
<rect x="646.17" y="695.91" width="4.7" height="4.29" fill="#b2dfdb"/>
<rect x="652.17" y="700.2" width="4.7" height="1.59" fill="#ff5252"/>
<rect x="658.17" y="700.2" width="4.7" height="4.3" fill="#ff5252"/>
<rect x="664.17" y="700.2" width="4.7" height="5.43" fill="#ff5252"/>
<rect x="670.17" y="700.2" width="4.7" height="2.72" fill="#ffcdd2"/>
<rect x="676.17" y="700.2" width="4.7" height="2.72" fill="#ff5252"/>
<rect x="682.17" y="700.2" width="4.7" height="4.75" fill="#ff5252"/>
<rect x="688.17" y="700.2" width="4.7" height="10.62" fill="#ff5252"/>
<rect x="694.17" y="700.2" width="4.7" height="11.75" fill="#ff5252"/>
<rect x="700.17" y="700.2" width="5.7" height="13.78" fill="#ff5252"/>
<rect x="707.17" y="700.2" width="4.7" height="16.72" fill="#ff5252"/>
<rect x="713.17" y="700.2" width="4.7" height="18.53" fill="#ff5252"/>
<rect x="719.17" y="700.2" width="4.7" height="19.66" fill="#ff5252"/>
<rect x="725.17" y="700.2" width="4.7" height="17.85" fill="#ffcdd2"/>
<rect x="731.17" y="700.2" width="4.7" height="17.85" fill="#ffcdd2"/>
<rect x="737.17" y="700.2" width="4.7" height="17.85" fill="#ffcdd2"/>
<rect x="743.17" y="700.2" width="4.7" height="13.78" fill="#ffcdd2"/>
<rect x="749.17" y="700.2" width="4.7" height="11.75" fill="#ffcdd2"/>
<rect x="755.17" y="700.2" width="4.7" height="9.49" fill="#ffcdd2"/>
<rect x="761.17" y="700.2" width="5.7" height="10.62" fill="#ff5252"/>
<rect x="768.17" y="700.2" width="4.7" height="14.91" fill="#ff5252"/>
<rect x="774.17" y="700.2" width="4.7" height="10.62" fill="#ffcdd2"/>
<rect x="780.17" y="700.2" width="4.7" height="5.88" fill="#ffcdd2"/>
<rect x="786.17" y="699.75" width="4.7" height="0.5" fill="#26a69a"/>
<rect x="792.17" y="699.08" width="4.7" height="1.12" fill="#26a69a"/>
<rect x="798.17" y="697.95" width="4.7" height="2.25" fill="#26a69a"/>
<rect x="804.17" y="699.08" width="4.7" height="1.12" fill="#b2dfdb"/>
<rect x="810.17" y="699.3" width="4.7" height="0.9" fill="#26a69a"/>
<rect x="816.17" y="700.2" width="5.7" height="1.59" fill="#ff5252"/>
<rect x="823.17" y="700.2" width="4.7" height="7.68" fill="#ff5252"/>
<rect x="829.17" y="700.2" width="4.7" height="10.62" fill="#ff5252"/>
<rect x="835.17" y="700.2" width="4.7" height="12.65" fill="#ff5252"/>
<rect x="841.17" y="700.2" width="4.7" height="12.65" fill="#ffcdd2"/>
<rect x="847.17" y="700.2" width="4.7" height="9.49" fill="#ffcdd2"/>
<rect x="853.17" y="700.2" width="4.7" height="8.81" fill="#ffcdd2"/>
<rect x="859.17" y="700.2" width="4.7" height="7.68" fill="#ffcdd2"/>
<rect x="865.17" y="700.2" width="4.7" height="5.88" fill="#ffcdd2"/>
<rect x="871.17" y="700.2" width="4.7" height="4.75" fill="#ffcdd2"/>
<rect x="877.17" y="700.2" width="5.7" height="5.88" fill="#ff5252"/>
<rect x="884.17" y="700.2" width="4.7" height="5.88" fill="#ff5252"/>
<rect x="890.17" y="700.2" width="4.7" height="7.01" fill="#ff5252"/>
<rect x="896.17" y="700.2" width="4.7" height="0.91" fill="#ffcdd2"/>
<rect x="902.17" y="695.91" width="4.7" height="4.29" fill="#26a69a"/>
<rect x="908.17" y="695.01" width="4.7" height="5.19" fill="#26a69a"/>
<rect x="914.17" y="688.01" width="4.7" height="12.19" fill="#26a69a"/>
<rect x="920.17" y="683.04" width="4.7" height="17.16" fill="#26a69a"/>
<rect x="926.17" y="680.1" width="4.7" height="20.1" fill="#26a69a"/>
<rect x="932.17" y="681.23" width="4.7" height="18.97" fill="#b2dfdb"/>
<rect x="938.17" y="681.91" width="5.7" height="18.29" fill="#b2dfdb"/>
<rect x="945.17" y="684.17" width="4.7" height="16.03" fill="#b2dfdb"/>
<rect x="951.17" y="688.01" width="4.7" height="12.19" fill="#b2dfdb"/>
<rect x="957.17" y="689.14" width="4.7" height="11.06" fill="#b2dfdb"/>
<rect x="963.17" y="692.07" width="4.7" height="8.13" fill="#b2dfdb"/>
<rect x="969.17" y="695.01" width="4.7" height="5.19" fill="#b2dfdb"/>
<rect x="975.17" y="692.07" width="4.7" height="8.13" fill="#26a69a"/>
<rect x="981.17" y="690.94" width="4.7" height="9.26" fill="#26a69a"/>
<rect x="987.17" y="692.07" width="4.7" height="8.13" fill="#b2dfdb"/>
<rect x="993.17" y="694.11" width="4.7" height="6.09" fill="#b2dfdb"/>
<rect x="999.17" y="694.11" width="5.7" height="6.09" fill="#b2dfdb"/>
<rect x="1006.17" y="694.11" width="4.7" height="6.09" fill="#b2dfdb"/>
<rect x="1012.17" y="699.98" width="4.7" height="0.5" fill="#b2dfdb"/>
<rect x="1018.17" y="700.2" width="4.7" height="3.62" fill="#ff5252"/>
<rect x="1024.17" y="700.2" width="4.7" height="4.75" fill="#ff5252"/>
<rect x="1030.17" y="700.2" width="4.7" height="13.78" fill="#ff5252"/>
<rect x="1036.17" y="700.2" width="4.7" height="21.69" fill="#ff5252"/>
<rect x="1042.17" y="700.2" width="4.7" height="28.69" fill="#ff5252"/>
<rect x="1048.17" y="700.2" width="4.7" height="26.43" fill="#ffcdd2"/>
<rect x="1054.17" y="700.2" width="5.7" height="28.69" fill="#ff5252"/>
<rect x="1061.17" y="700.2" width="4.7" height="26.43" fill="#ffcdd2"/>
<rect x="1067.17" y="700.2" width="4.7" height="28.69" fill="#ff5252"/>
<rect x="1073.17" y="700.2" width="4.7" height="25.76" fill="#ffcdd2"/>
<rect x="1079.17" y="700.2" width="4.7" height="21.69" fill="#ffcdd2"/>
<rect x="1085.17" y="700.2" width="4.7" height="18.53" fill="#ffcdd2"/>
<rect x="1091.17" y="700.2" width="4.7" height="15.59" fill="#ffcdd2"/>
<rect x="1097.17" y="700.2" width="4.7" height="13.33" fill="#ffcdd2"/>
<rect x="1103.17" y="700.2" width="4.7" height="4.3" fill="#ffcdd2"/>
<rect x="1109.17" y="700.2" width="4.7" height="2.04" fill="#ffcdd2"/>
<rect x="1115.17" y="699.3" width="5.7" height="0.9" fill="#26a69a"/>
<rect x="1122.17" y="694.78" width="4.7" height="5.42" fill="#26a69a"/>
<polyline fill="none" stroke="#2196f3" stroke-width="1.3" stroke-linejoin="round" stroke-linecap="round" points="13,668.35 19.1,676.71 25.2,684.17 31.3,690.27 37.41,696.59 43.51,701.11 49.61,701.79 55.71,703.82 61.82,705.17 67.92,703.37 74.02,702.92 80.12,701.79 86.23,697.72 92.33,690.27 98.43,683.04 104.53,677.84 110.63,674 116.74,671.07 122.84,668.35 128.94,670.61 135.04,672.87 141.15,678.52 147.25,683.49 153.35,688.68 159.45,691.62 165.56,694.78 171.66,699.98 177.76,702.24 183.86,703.37 189.97,704.04 196.07,706.3 202.17,705.17 208.27,703.37 214.37,702.92 220.48,702.69 226.58,702.69 232.68,702.69 238.78,704.5 244.89,704.5 250.99,704.04 257.09,712.85 263.19,720.76 269.3,726.63 275.4,733.18 281.5,738.83 287.6,742.9 293.7,736.8 299.81,729.8 305.91,722.57 312.01,717.37 318.11,713.98 324.22,712.85 330.32,705.17 336.42,699.98 342.52,695.91 348.63,693.2 354.73,692.07 360.83,692.07 366.93,676.71 373.04,665.64 379.14,657.51 385.24,651.41 391.34,648.48 397.44,646.44 403.55,645.77 409.65,646.44 415.75,652.09 421.85,657.51 427.96,658.87 434.06,661.13 440.16,664.97 446.26,667.23 452.37,669.94 458.47,671.29 464.57,675.13 470.67,680.33 476.77,685.75 482.88,687.1 488.98,687.56 495.08,687.1 501.18,685.3 507.29,680.78 513.39,675.81 519.49,672.87 525.59,669.26 531.7,668.58 537.8,670.16 543.9,671.07 550,672.87 556.11,662.71 562.21,652.99 568.31,645.77 574.41,640.8 580.51,625.44 586.62,614.14 592.72,606.91 598.82,600.59 604.92,595.39 611.03,593.36 617.13,591.55 623.23,596.07 629.33,598.33 635.44,597.65 641.54,597.43 647.64,598.78 653.74,604.65 659.84,608.49 665.95,610.3 672.05,607.37 678.15,608.49 684.25,611.21 690.36,619.34 696.46,623.85 702.56,628.15 708.66,635.15 714.77,642.38 720.87,647.35 726.97,650.74 733.07,654.35 739.17,657.74 745.28,657.74 751.38,658.64 757.48,658.87 763.58,662.26 769.69,669.03 775.79,667.9 781.89,664.29 787.99,658.64 794.1,657.29 800.2,656.61 806.3,656.61 812.4,656.61 818.51,659.32 824.61,666.77 830.71,672.87 836.81,677.39 842.91,679.65 849.02,679.65 855.12,680.33 861.22,680.33 867.32,680.33 873.43,680.33 879.53,682.59 885.63,684.17 891.73,686.88 897.84,680.78 903.94,675.13 910.04,672.87 916.14,663.84 922.24,654.8 928.35,646.44 934.45,641.93 940.55,638.54 946.65,636.73 952.76,637.86 958.86,636.28 964.96,636.73 971.06,638.09 977.17,633.79 983.27,629.95 989.37,628.82 995.47,629.28 1001.58,628.15 1007.68,626.57 1013.78,632.89 1019.88,636.28 1025.98,638.31 1032.09,652.54 1038.19,666.1 1044.29,677.39 1050.39,681.46 1056.5,691.62 1062.6,696.14 1068.7,705.63 1074.8,708.56 1080.91,709.01 1087.01,711.27 1093.11,711.27 1099.21,712.85 1105.31,705.17 1111.42,702.24 1117.52,699.98 1123.62,694.33"/>
<polyline fill="none" stroke="#ff6d00" stroke-width="1.3" stroke-linejoin="round" stroke-linecap="round" points="13,661.13 19.1,663.84 25.2,667.9 31.3,672.42 37.41,677.39 43.51,682.36 49.61,687.1 55.71,690.49 61.82,693.2 67.92,695.01 74.02,696.59 80.12,697.27 86.23,697.27 92.33,696.59 98.43,694.33 104.53,690.94 110.63,687.56 116.74,683.71 122.84,680.78 128.94,678.52 135.04,677.39 141.15,677.84 147.25,678.97 153.35,681.46 159.45,683.71 165.56,685.97 171.66,689.14 177.76,692.07 183.86,694.33 189.97,696.59 196.07,698.85 202.17,699.98 208.27,700.66 214.37,700.88 220.48,701.11 226.58,701.33 232.68,701.56 238.78,701.79 244.89,702.69 250.99,703.37 257.09,705.17 263.19,709.01 269.3,713.53 275.4,717.37 281.5,721.89 287.6,725.96 293.7,727.54 299.81,727.54 305.91,726.63 312.01,724.37 318.11,722.57 324.22,720.31 330.32,716.92 336.42,713.53 342.52,710.14 348.63,706.76 354.73,704.04 360.83,701.11 366.93,695.91 373.04,689.81 379.14,683.04 385.24,676.71 391.34,671.29 397.44,666.77 403.55,662.71 409.65,659.32 415.75,657.74 421.85,657.51 427.96,657.51 434.06,658.19 440.16,659.77 446.26,661.58 452.37,663.39 458.47,664.97 464.57,667.23 470.67,670.61 476.77,673.32 482.88,676.26 488.98,678.07 495.08,679.65 501.18,680.78 507.29,680.78 513.39,680.33 519.49,678.52 525.59,676.94 531.7,675.13 537.8,674.45 543.9,673.78 550,673.32 556.11,671.74 562.21,668.35 568.31,663.84 574.41,659.32 580.51,652.54 586.62,644.64 592.72,636.73 598.82,628.82 604.92,622.05 611.03,615.95 617.13,611.43 623.23,608.49 629.33,606.24 635.44,604.43 641.54,603.3 647.64,602.4 653.74,602.85 659.84,603.98 665.95,605.11 672.05,605.56 678.15,606.24 684.25,606.91 690.36,609.17 696.46,612.33 702.56,615.27 708.66,619.11 714.77,623.85 720.87,628.37 726.97,633.34 733.07,637.41 739.17,641.7 745.28,644.64 751.38,647.57 757.48,649.83 763.58,652.54 769.69,655.93 775.79,658.19 781.89,659.32 787.99,659.32 794.1,658.64 800.2,658.19 806.3,657.96 812.4,657.74 818.51,657.74 824.61,659.32 830.71,662.26 836.81,665.64 842.91,668.35 849.02,670.61 855.12,672.42 861.22,674 867.32,675.58 873.43,676.94 879.53,678.52 885.63,680.1 891.73,680.78 897.84,680.78 903.94,679.65 910.04,678.52 916.14,675.58 922.24,671.74 928.35,666.55 934.45,661.58 940.55,657.06 946.65,652.99 952.76,649.83 958.86,647.12 964.96,644.86 971.06,643.51 977.17,641.7 983.27,638.99 989.37,636.73 995.47,635.15 1001.58,633.57 1007.68,632.44 1013.78,632.21 1019.88,632.89 1025.98,634.47 1032.09,638.54 1038.19,643.51 1044.29,650.28 1050.39,657.06 1056.5,663.84 1062.6,670.61 1068.7,677.39 1074.8,683.49 1080.91,688.68 1087.01,693.65 1093.11,697.04 1099.21,699.98 1105.31,701.11 1111.42,701.33 1117.52,700.66 1123.62,699.53"/>
</g>
<rect x="13" y="12" width="2" height="782" fill="#eceef4"/>
<rect x="1643" y="12" width="2" height="782" fill="#eceef4"/>
<rect x="13" y="12" width="1632" height="2" fill="#eceef4"/>
<rect x="13" y="792.8" width="1632" height="1.3" fill="#eceef4"/>
<rect x="14" y="293" width="2" height="5.8" fill="#f23645"/>
<rect x="0" y="0" width="1.1" height="797" fill="#111"/>
<text x="23.8" y="37.9" fill="#131722" textLength="286.3" lengthAdjust="spacingAndGlyphs">Silver US Dollars per Ounce Spot Prices, 4h</text>
<text x="319.9" y="37.9" textLength="46.5" lengthAdjust="spacingAndGlyphs"><tspan fill="#131722">O</tspan><tspan fill="#089981">42.09</tspan></text>
<text x="376.5" y="37.9" textLength="45.1" lengthAdjust="spacingAndGlyphs"><tspan fill="#131722">H</tspan><tspan fill="#089981">42.41</tspan></text>
<text x="433" y="37.9" textLength="43" lengthAdjust="spacingAndGlyphs"><tspan fill="#131722">L</tspan><tspan fill="#089981">41.96</tspan></text>
<text x="485.5" y="37.9" textLength="45.5" lengthAdjust="spacingAndGlyphs"><tspan fill="#131722">C</tspan><tspan fill="#089981">42.32</tspan></text>
<text x="540.7" y="37.9" fill="#089981" textLength="97.8" lengthAdjust="spacingAndGlyphs">+0.23 (+0.54%)</text>
<text x="23.8" y="58.6" fill="#131722" textLength="120.5" lengthAdjust="spacingAndGlyphs">MA (100, close, 0)</text>
<text x="153.7" y="58.6" fill="#2196f3" textLength="36.4" lengthAdjust="spacingAndGlyphs">41.22</text>
<text x="23.8" y="79.7" fill="#131722" textLength="112.3" lengthAdjust="spacingAndGlyphs">MA (21, close, 0)</text>
<text x="145.9" y="79.7" fill="#2158f2" textLength="36.3" lengthAdjust="spacingAndGlyphs">42.06</text>
<text x="24" y="410.8" fill="#131722" textLength="51.3" lengthAdjust="spacingAndGlyphs">RSI (14)</text>
<text x="84.9" y="410.8" fill="#9d57c2" textLength="36.1" lengthAdjust="spacingAndGlyphs">56.37</text>
<text x="23.7" y="597.9" fill="#131722" textLength="156.3" lengthAdjust="spacingAndGlyphs">MACD (12, 26, close, 9)</text>
<text x="190.4" y="597.9" fill="#26a69a" textLength="28" lengthAdjust="spacingAndGlyphs">0.03</text>
<text x="228" y="597.9" fill="#2196f3" textLength="28.4" lengthAdjust="spacingAndGlyphs">0.03</text>
<text x="266.5" y="597.9" fill="#ff6d00" textLength="28.3" lengthAdjust="spacingAndGlyphs">0.00</text>
<text x="1589.3" y="54.2" fill="#131722" textLength="36.4" lengthAdjust="spacingAndGlyphs">43.00</text>
<text x="1589.3" y="104.7" fill="#131722" textLength="36.4" lengthAdjust="spacingAndGlyphs">42.00</text>
<text x="1589.3" y="155.2" fill="#131722" textLength="36.4" lengthAdjust="spacingAndGlyphs">41.00</text>
<text x="1589.3" y="205.7" fill="#131722" textLength="36.4" lengthAdjust="spacingAndGlyphs">40.00</text>
<text x="1589.3" y="256.2" fill="#131722" textLength="36.4" lengthAdjust="spacingAndGlyphs">39.00</text>
<text x="1589.3" y="306.7" fill="#131722" textLength="36.4" lengthAdjust="spacingAndGlyphs">38.00</text>
<text x="1589.3" y="357.1" fill="#131722" textLength="36.4" lengthAdjust="spacingAndGlyphs">37.00</text>
<text x="1589.3" y="407.4" fill="#131722" textLength="36.4" lengthAdjust="spacingAndGlyphs">80.00</text>
<text x="1589.3" y="467.1" fill="#131722" textLength="36.4" lengthAdjust="spacingAndGlyphs">60.00</text>
<text x="1589.3" y="526.1" fill="#131722" textLength="36.4" lengthAdjust="spacingAndGlyphs">40.00</text>
<text x="1589.3" y="589.3" fill="#131722" textLength="28.9" lengthAdjust="spacingAndGlyphs">0.60</text>
<text x="1589.3" y="627.9" fill="#131722" textLength="28.9" lengthAdjust="spacingAndGlyphs">0.40</text>
<text x="1589.3" y="666.3" fill="#131722" textLength="28.9" lengthAdjust="spacingAndGlyphs">0.20</text>
<text x="1589.3" y="705.2" fill="#131722" textLength="28.9" lengthAdjust="spacingAndGlyphs">0.00</text>
<text x="1590.6" y="743.5" fill="#131722" textLength="35.1" lengthAdjust="spacingAndGlyphs">−0.20</text>
<path d="M1579,73.3 H1631 Q1633,73.3 1633,75.3 V92 Q1633,94 1631,94 H1579 Z" fill="#089981"/>
<text x="1589.3" y="88.85" fill="#fff" textLength="36.4" lengthAdjust="spacingAndGlyphs">42.32</text>
<path d="M1579,94 H1631 Q1633,94 1633,96 V113 Q1633,115 1631,115 H1579 Z" fill="#2158f2"/>
<text x="1589.3" y="109.7" fill="#fff" textLength="36.4" lengthAdjust="spacingAndGlyphs">42.06</text>
<path d="M1579,129.5 H1631 Q1633,129.5 1633,131.5 V148 Q1633,150 1631,150 H1579 Z" fill="#2196f3"/>
<text x="1589.3" y="144.95" fill="#fff" textLength="36.4" lengthAdjust="spacingAndGlyphs">41.22</text>
<path d="M1579,462 H1631 Q1633,462 1633,464 V480.8 Q1633,482.8 1631,482.8 H1579 Z" fill="#9d57c2"/>
<text x="1589.3" y="477.6" fill="#fff" textLength="36.4" lengthAdjust="spacingAndGlyphs">56.37</text>
<path d="M1579,664 H1623 Q1625,664 1625,666 V683 Q1625,685 1623,685 H1579 Z" fill="#2196f3"/>
<text x="1589.3" y="679.7" fill="#fff" textLength="28.4" lengthAdjust="spacingAndGlyphs">0.03</text>
<path d="M1579,685 H1623 Q1625,685 1625,687 V704 Q1625,706 1623,706 H1579 Z" fill="#26a69a"/>
<text x="1589.3" y="700.7" fill="#fff" textLength="28.4" lengthAdjust="spacingAndGlyphs">0.03</text>
<path d="M1579,706 H1623 Q1625,706 1625,708 V724.5 Q1625,726.5 1623,726.5 H1579 Z" fill="#ff6d00"/>
<text x="1589.3" y="721.45" fill="#fff" textLength="28.4" lengthAdjust="spacingAndGlyphs">0.00</text>
<text x="116.97" y="781.7" fill="#131722" text-anchor="middle">14</text>
<text x="232.97" y="781.7" fill="#131722" text-anchor="middle">19</text>
<text x="342.97" y="781.7" fill="#131722" text-anchor="middle">22</text>
<text x="457.97" y="781.7" fill="#131722" text-anchor="middle">27</text>
<text x="573.97" y="781.7" fill="#131722" font-weight="bold" text-anchor="middle">Sep</text>
<text x="683.97" y="781.7" fill="#131722" text-anchor="middle">4</text>
<text x="799.97" y="781.7" fill="#131722" text-anchor="middle">9</text>
<text x="909.97" y="781.7" fill="#131722" text-anchor="middle">12</text>
<text x="1025.97" y="781.7" fill="#131722" text-anchor="middle">17</text>
<text x="1135.97" y="781.7" fill="#131722" text-anchor="middle">20</text>
<text x="1245.97" y="781.7" fill="#131722" text-anchor="middle">23</text>
<text x="1355.97" y="781.7" fill="#131722" text-anchor="middle">26</text>
<text x="1538.97" y="781.7" fill="#131722" font-weight="bold" text-anchor="middle">Oct</text>
</svg>
</body></html>
